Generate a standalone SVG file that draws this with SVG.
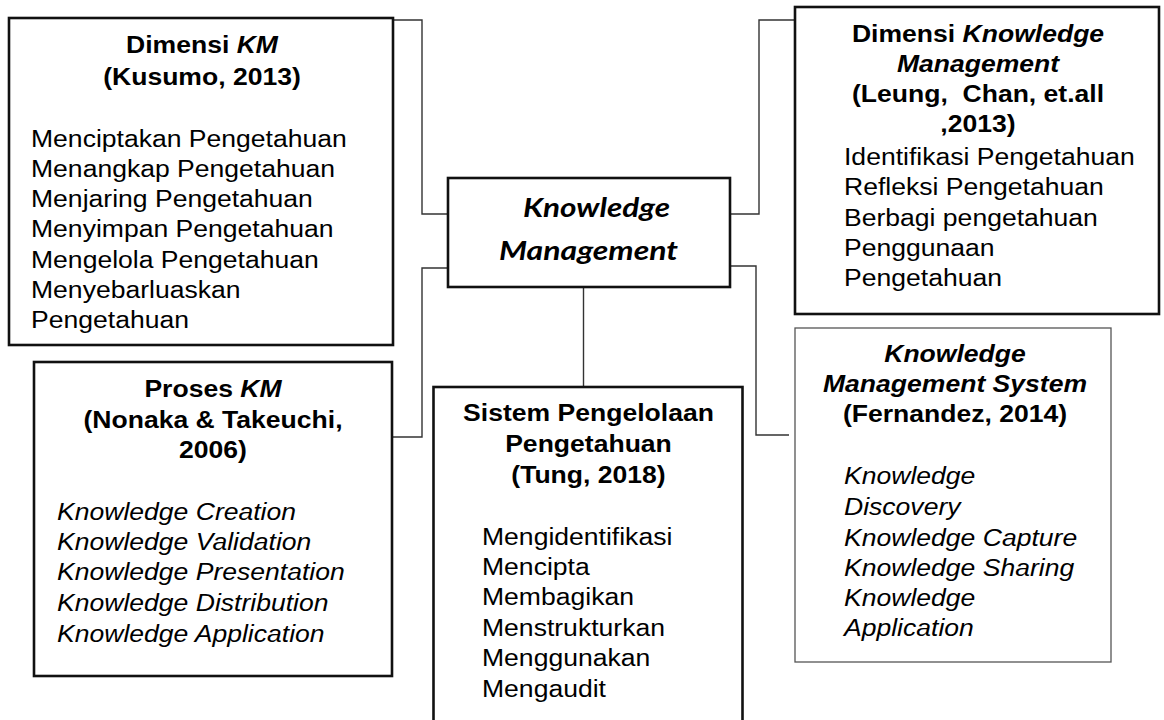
<svg xmlns="http://www.w3.org/2000/svg" width="1164" height="720" viewBox="0 0 1164 720">
<style>
.box{fill:#fff;stroke:#111;stroke-width:2.6}
.thin{fill:#fff;stroke:#555;stroke-width:1.3}
.conn{fill:none;stroke:#333;stroke-width:1.4}
.t{font-family:"Liberation Sans",Arial,sans-serif;font-size:23.5px;fill:#000}
.b{font-weight:bold}
.i{font-style:italic}
.c{text-anchor:middle}
.km{font-family:Lato,"Open Sans",sans-serif;font-size:27px;font-weight:bold;font-style:italic;fill:#000}
</style>
<rect width="1164" height="720" fill="#fff"/>
<g id="connectors">
<polyline class="conn" points="393,20 422,20 422,214 452,214"/>
<polyline class="conn" points="452,268 422,268 422,437 393,437"/>
<polyline class="conn" points="726,214 759,214 759,20 795,20"/>
<polyline class="conn" points="723,266 756,266 756,435 789,435"/>
<line class="conn" x1="583.5" y1="287" x2="583.5" y2="387"/>
</g>
<g id="node-dimensi-km">
<rect class="box" x="9" y="18" width="384" height="327"/>
<text class="t b c" transform="translate(202,0) scale(1.13,1)"><tspan x="0" y="53">Dimensi <tspan class="i">KM</tspan></tspan><tspan x="0" y="85">(Kusumo, 2013)</tspan></text>
<text class="t" transform="translate(31,0) scale(1.13,1)"><tspan x="0" y="147">Menciptakan Pengetahuan</tspan><tspan x="0" y="177">Menangkap Pengetahuan</tspan><tspan x="0" y="207">Menjaring Pengetahuan</tspan><tspan x="0" y="237">Menyimpan Pengetahuan</tspan><tspan x="0" y="268">Mengelola Pengetahuan</tspan><tspan x="0" y="298">Menyebarluaskan</tspan><tspan x="0" y="328">Pengetahuan</tspan></text>
</g>
<g id="node-km">
<rect class="box" x="448" y="178" width="282" height="109"/>
<text class="km" x="523" y="217" textLength="147" lengthAdjust="spacingAndGlyphs">Knowledge</text>
<text class="km" x="499" y="260" textLength="179" lengthAdjust="spacingAndGlyphs">Management</text>
</g>
<g id="node-dimensi-knowledge-management">
<rect class="box" x="795" y="7" width="364" height="307"/>
<text class="t b c" transform="translate(978,0) scale(1.13,1)"><tspan x="0" y="42">Dimensi <tspan class="i">Knowledge</tspan></tspan><tspan x="0" y="72" class="i">Management</tspan><tspan x="0" y="102">(Leung,&#160; Chan, et.all</tspan><tspan x="0" y="132">,2013)</tspan></text>
<text class="t" transform="translate(844,0) scale(1.13,1)"><tspan x="0" y="165">Identifikasi Pengetahuan</tspan><tspan x="0" y="195">Refleksi Pengetahuan</tspan><tspan x="0" y="226">Berbagi pengetahuan</tspan><tspan x="0" y="256.5">Penggunaan</tspan><tspan x="0" y="286.5">Pengetahuan</tspan></text>
</g>
<g id="node-proses-km">
<rect class="box" x="34" y="362" width="358" height="314"/>
<text class="t b c" transform="translate(213,0) scale(1.13,1)"><tspan x="0" y="397">Proses <tspan class="i">KM</tspan></tspan><tspan x="0" y="428">(Nonaka &amp; Takeuchi,</tspan><tspan x="0" y="458">2006)</tspan></text>
<text class="t i" transform="translate(57,0) scale(1.13,1)"><tspan x="0" y="520">Knowledge Creation</tspan><tspan x="0" y="550">Knowledge Validation</tspan><tspan x="0" y="580">Knowledge Presentation</tspan><tspan x="0" y="611">Knowledge Distribution</tspan><tspan x="0" y="641.5">Knowledge Application</tspan></text>
</g>
<g id="node-sistem">
<rect class="box" x="433.5" y="387" width="309" height="345"/>
<text class="t b c" transform="translate(588.5,0) scale(1.13,1)"><tspan x="0" y="421">Sistem Pengelolaan</tspan><tspan x="0" y="452">Pengetahuan</tspan><tspan x="0" y="483">(Tung, 2018)</tspan></text>
<text class="t" transform="translate(482,0) scale(1.13,1)"><tspan x="0" y="545">Mengidentifikasi</tspan><tspan x="0" y="575">Mencipta</tspan><tspan x="0" y="605">Membagikan</tspan><tspan x="0" y="636">Menstrukturkan</tspan><tspan x="0" y="666.5">Menggunakan</tspan><tspan x="0" y="697.5">Mengaudit</tspan></text>
</g>
<g id="node-kms">
<rect class="thin" x="795" y="328" width="316" height="334"/>
<text class="t b i c" transform="translate(955,0) scale(1.13,1)"><tspan x="0" y="362">Knowledge</tspan><tspan x="0" y="392">Management System</tspan><tspan x="0" y="422" style="font-style:normal">(Fernandez, 2014)</tspan></text>
<text class="t i" transform="translate(844,0) scale(1.13,1)"><tspan x="0" y="484.5">Knowledge</tspan><tspan x="0" y="515">Discovery</tspan><tspan x="0" y="546">Knowledge Capture</tspan><tspan x="0" y="576">Knowledge Sharing</tspan><tspan x="0" y="606">Knowledge</tspan><tspan x="0" y="636.5">Application</tspan></text>
</g>
</svg>
